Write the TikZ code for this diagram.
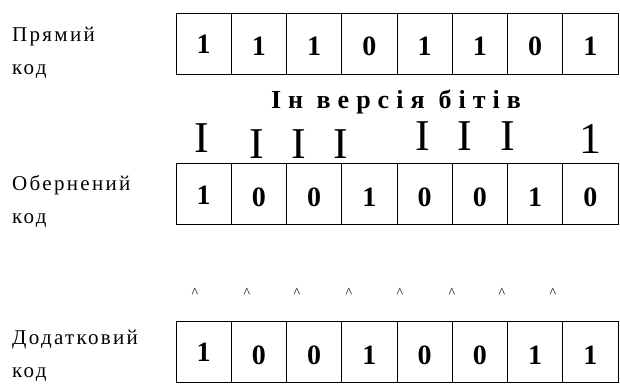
\documentclass[tikz,border=0pt]{standalone}
\usepackage{fontspec}
\setmainfont{Liberation Serif}
\newfontfamily\spacedfont[LetterSpace=11]{Liberation Serif}
\newfontfamily\titlefont[LetterSpace=27]{Liberation Serif}

\tikzset{
  cell/.style={draw, line width=0.9pt, minimum width=55.25pt, minimum height=61pt,
    inner sep=0pt, font=\fontsize{28}{28}\selectfont\bfseries},
  lbl/.style={anchor=base west, inner sep=0pt, font=\fontsize{21}{21}\selectfont\spacedfont},
  title/.style={anchor=base, inner sep=0pt, font=\fontsize{26}{26}\selectfont\titlefont\bfseries},
  flip/.style={anchor=base, inner sep=0pt, font=\fontsize{44}{44}\selectfont},
  hat/.style={anchor=base, inner sep=0pt, font=\fontsize{14}{14}\selectfont}
}

\begin{document}
\begin{tikzpicture}[x=1pt,y=-1pt]
\useasboundingbox (0,0) rectangle (620,385);

% прямий код
\node[lbl] (pr) at (12,42) {Прямий};
\node[lbl] (prk) at (12,75) {код};
\foreach \b [count=\i] in {1,1,1,0,1,1,0,1} {
  \pgfmathsetmacro\hh{\i==1 ? 20 : 25}
  \node[cell, text height=\hh pt, text depth=0pt] (pr\i) at ({176+55.25*(\i-0.5)},43.5) {\b};
}

% інверсія
\node[title] (inv) at (396,109) {Ін версія\hspace{14pt}бітів};
\foreach \x/\y [count=\i] in {202/152,257/158,299/158,341/158,423/150,465/150,508/150} {
  \node[flip] (fl\i) at (\x,\y) {I};
}
\node[flip] (fl8) at (590,153) {1};

% обернений код
\node[lbl] (ob) at (12,190) {Обернений};
\node[lbl] (obk) at (12,223) {код};
\foreach \b [count=\i] in {1,0,0,1,0,0,1,0} {
  \pgfmathsetmacro\hh{\i==1 ? 20 : 25}
  \node[cell, text height=\hh pt, text depth=0pt] (ob\i) at ({176+55.25*(\i-0.5)},194) {\b};
}

% додатковий код
\foreach \x [count=\i] in {195,247,297,349,400,452,502,553} {
  \node[hat] (h\i) at (\x,297) {\textasciicircum};
}
\node[lbl] (dod) at (12,344) {Додатковий};
\node[lbl] (dodk) at (12,377) {код};
\foreach \b [count=\i] in {1,0,0,1,0,0,1,1} {
  \pgfmathsetmacro\hh{\i==1 ? 20 : 25}
  \node[cell, text height=\hh pt, text depth=0pt] (dod\i) at ({176+55.25*(\i-0.5)},351.5) {\b};
}
\end{tikzpicture}
\end{document}
